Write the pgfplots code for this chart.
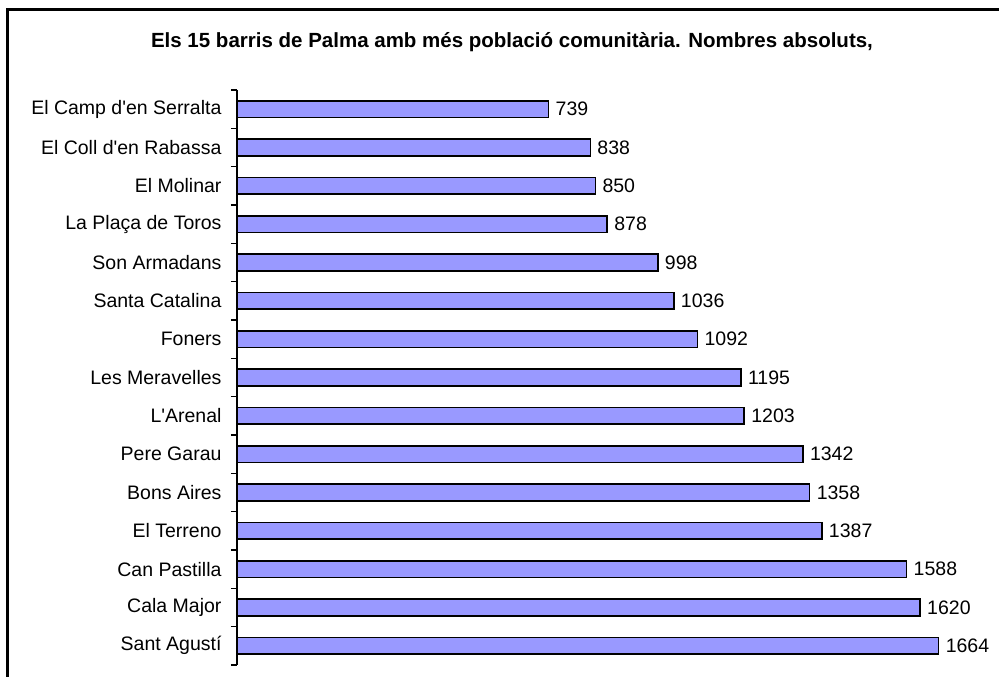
\documentclass[border=0pt]{standalone}
\usepackage{fontspec}
\setmainfont{Liberation Sans}
\usepackage{pgfplots}
\pgfplotsset{compat=1.18}
\definecolor{barfill}{RGB}{153,153,255}
\pgfplotstableread[col sep=comma]{
idx,val
0,739
1,838
2,850
3,878
4,998
5,1036
6,1092
7,1195
8,1203
9,1342
10,1358
11,1387
12,1588
13,1620
14,1664
}\datatable
\begin{document}
\begin{tikzpicture}[x=1pt,y=1pt]
\useasboundingbox (0,0) rectangle (999,677);
\draw[line width=2.2pt] (7.5,-10) -- (7.5,667.5) -- (1010,667.5);
\node[anchor=base,inner sep=0pt,font=\bfseries\fontsize{20.5pt}{24pt}\selectfont] at (512,629) {Els 15 barris de Palma amb més població comunitària. Nombres absoluts,};
\begin{axis}[
  at={(237pt,12pt)}, anchor=south west,
  scale only axis, width=759pt, height=575pt,
  xbar, bar width=16.5pt,
  xmin=0, xmax=1800, ymin=-0.5, ymax=14.5,
  y dir=reverse,
  axis x line=none, axis y line*=left,
  axis line style={line width=1.5pt,black,-},
  ytick={0,...,14},
  yticklabels={El Camp d\textquotesingle en Serralta, El Coll d\textquotesingle en Rabassa, El Molinar, La Plaça de Toros, Son Armadans, Santa Catalina, Foners, Les Meravelles, L\textquotesingle Arenal, Pere Garau, Bons Aires, El Terreno, Can Pastilla, Cala Major, Sant Agustí},
  major tick length=0pt,
  minor ytick={-0.5,0.5,...,14.5},
  minor tick length=6pt,
  tick align=outside,
  minor tick style={line width=1.3pt,black},
  yticklabel style={font=\fontsize{19.5pt}{23pt}\selectfont, xshift=-12pt},
  /pgf/number format/assume math mode=true,
  /pgf/number format/1000 sep={},
  nodes near coords,
  every node near coord/.append style={font=\fontsize{19.5pt}{23pt}\selectfont, black, anchor=west, xshift=3pt},
  clip=false,
]
\addplot[fill=barfill, draw=black, line width=1.6pt] table[x=val,y=idx] {\datatable};
\end{axis}
\end{tikzpicture}
\end{document}
